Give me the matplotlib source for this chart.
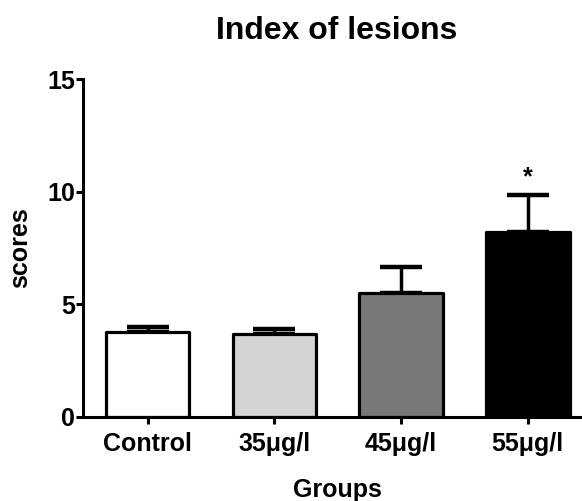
import matplotlib.pyplot as plt
import numpy as np

groups = ['Control', '35μg/l', '45μg/l', '55μg/l']
means = [3.78, 3.67, 5.48, 8.22]
errs = [0.20, 0.23, 1.16, 1.63]
colors = ['#ffffff', '#d4d4d4', '#787878', '#000000']
star_groups = [3]

plt.rcParams['font.family'] = ['Liberation Sans', 'DejaVu Sans']
plt.rcParams['font.weight'] = 'bold'

fig = plt.figure(figsize=(5.82, 5.01), dpi=100)
ax = fig.add_axes([83 / 582, 84.3 / 501, 498 / 582, 337.4 / 501])

x = np.arange(len(groups))
zero = np.zeros(len(groups))
ax.errorbar(x, means, yerr=[zero, errs], fmt='none', ecolor='black',
            elinewidth=2.5, capsize=15, capthick=3.2, zorder=1)
bars = ax.bar(x, means, width=0.66, color=colors, edgecolor='black',
              linewidth=2.3, zorder=2)
for b in bars:
    b.set_joinstyle('round')

for i in star_groups:
    ax.text(x[i], means[i] + errs[i] + 0.5, '*', ha='center', va='baseline',
            fontsize=18, fontweight='bold')

ax.set_xlim(-0.51, 3.42)
ax.set_ylim(0, 15)
ax.set_yticks([0, 5, 10, 15])
ax.set_xticks(x)
ax.set_xticklabels(groups)

for s in ['top', 'right']:
    ax.spines[s].set_visible(False)
for s in ['left', 'bottom']:
    ax.spines[s].set_linewidth(2.2)

ax.tick_params(axis='both', width=2.2, length=5, labelsize=18)
ax.tick_params(axis='y', pad=0.8)
ax.tick_params(axis='x', pad=6)

ax.set_ylabel('scores', fontsize=18, fontweight='bold')
ax.yaxis.set_label_coords(-0.103, 0.5)
ax.set_xlabel('Groups', fontsize=18, fontweight='bold', va='top')
ax.xaxis.set_label_coords(0.511, -0.1826)

ax.text(0.509, 1.1194, 'Index of lesions', transform=ax.transAxes,
        ha='center', va='baseline', fontsize=23, fontweight='bold')

fig.savefig('out.png', dpi=100)
